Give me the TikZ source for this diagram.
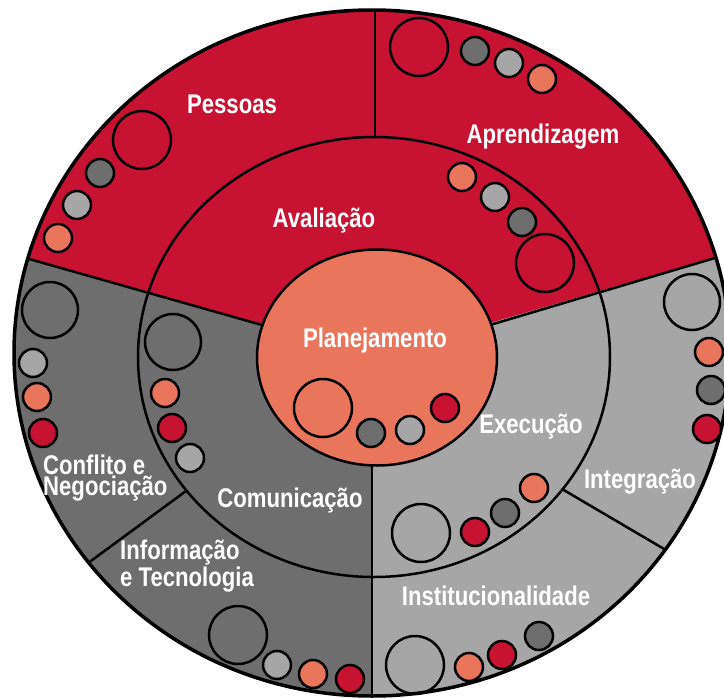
\documentclass[tikz,border=0pt]{standalone}
\usepackage{fontspec}
\newfontfamily\lblfont{Liberation Sans}[FakeStretch=0.82]
\definecolor{cred}{RGB}{200,18,50}
\definecolor{csal}{RGB}{232,117,92}
\definecolor{cdark}{RGB}{110,110,110}
\definecolor{clight}{RGB}{166,166,166}
\tikzset{
  lbl/.style={text=white, font=\lblfont\bfseries\fontsize{27}{21}\selectfont, inner sep=0pt},
  bigc/.style={draw=black, line width=2.5pt},
  dot/.style={draw=black, line width=2.5pt},
  ring/.style={draw=black, line width=2.5pt},
  rim/.style={draw=black, line width=3.5pt}
}
\begin{document}
\begin{tikzpicture}[x=1pt,y=-1pt]
\useasboundingbox (0,0) rectangle (724,699);
\clip (0,0) rectangle (724,699);
% sectors
\begin{scope}
  \clip (372,353) ellipse [x radius=358pt, y radius=343pt];
  \fill[clight] (-10,-10) rectangle (740,710);
  \fill[cdark] (373,357) -- (-317,159) -- (-400,1200) -- (372,1200) -- (372,357) -- cycle;
  \fill[cred] (373,357) -- (-317,159) -- (-400,-400) -- (1100,-400) -- (1059,157) -- cycle;
  % spokes
  \draw[ring] (375,137) -- (375,-5);
  \draw[ring] (262,325) -- (15,255);
  \draw[ring] (490,325) -- (735,252);
  \draw[ring] (372,465) -- (372,710);
  \draw[ring] (186,491) -- (80,569);
  \draw[ring] (562,489) -- (676,556);
\end{scope}
% rings
\draw[ring] (374,357) ellipse [x radius=236pt, y radius=220pt];
\filldraw[ring, fill=csal] (377,357.5) ellipse [x radius=120pt, y radius=108pt];
\draw[rim] (372,353) ellipse [x radius=358pt, y radius=343pt];
% Pessoas
\draw[bigc] (142,140) circle[radius=29pt];
\filldraw[dot, fill=cdark] (100,173) circle[radius=14pt];
\filldraw[dot, fill=clight] (77,205) circle[radius=14pt];
\filldraw[dot, fill=csal] (58,238) circle[radius=14pt];
% Aprendizagem
\draw[bigc] (419,47) circle[radius=29pt];
\filldraw[dot, fill=cdark] (475,51) circle[radius=14pt];
\filldraw[dot, fill=clight] (509,63) circle[radius=14pt];
\filldraw[dot, fill=csal] (542,79) circle[radius=14pt];
% Avaliacao
\filldraw[dot, fill=csal] (462,177) circle[radius=14pt];
\filldraw[dot, fill=clight] (495,197) circle[radius=14pt];
\filldraw[dot, fill=cdark] (522,222) circle[radius=14pt];
\draw[bigc] (545,263) circle[radius=29pt];
% Conflito
\draw[bigc] (50,310) circle[radius=28pt];
\filldraw[dot, fill=clight] (33,363) circle[radius=14pt];
\filldraw[dot, fill=csal] (37,397) circle[radius=14pt];
\filldraw[dot, fill=cred] (43,433) circle[radius=14pt];
% Comunicacao
\draw[bigc] (173,342) circle[radius=28pt];
\filldraw[dot, fill=csal] (165,393) circle[radius=14pt];
\filldraw[dot, fill=cred] (172,428) circle[radius=14pt];
\filldraw[dot, fill=clight] (190,458) circle[radius=14pt];
% Informacao
\draw[bigc] (238,635) circle[radius=29pt];
\filldraw[dot, fill=clight] (277,665) circle[radius=14pt];
\filldraw[dot, fill=csal] (313,674) circle[radius=14pt];
\filldraw[dot, fill=cred] (350,679) circle[radius=14pt];
% Planejamento
\draw[bigc] (323,408) circle[radius=29pt];
\filldraw[dot, fill=cdark] (371,433) circle[radius=14pt];
\filldraw[dot, fill=clight] (410,430) circle[radius=14pt];
\filldraw[dot, fill=cred] (445,408) circle[radius=14pt];
% Execucao
\draw[bigc] (421,533) circle[radius=29pt];
\filldraw[dot, fill=cred] (475,532) circle[radius=14pt];
\filldraw[dot, fill=cdark] (505,513) circle[radius=14pt];
\filldraw[dot, fill=csal] (534,488) circle[radius=14pt];
% Institucionalidade
\draw[bigc] (415,665) circle[radius=29pt];
\filldraw[dot, fill=csal] (469,667) circle[radius=14pt];
\filldraw[dot, fill=cred] (502,655) circle[radius=14pt];
\filldraw[dot, fill=cdark] (539,636) circle[radius=14pt];
% Integracao
\draw[bigc] (692,302) circle[radius=28pt];
\filldraw[dot, fill=csal] (709,352) circle[radius=14pt];
\filldraw[dot, fill=cdark] (711,390) circle[radius=14pt];
\filldraw[dot, fill=cred] (707,429) circle[radius=14pt];
% labels
\node[lbl, anchor=base] (pes) at (232,113) {Pessoas};
\node[lbl, anchor=base] (apr) at (543,143) {Aprendizagem};
\node[lbl, anchor=base] (ava) at (324,227) {Avaliação};
\node[lbl, anchor=base] (pla) at (375,347) {Planejamento};
\node[lbl, anchor=base] (exe) at (531,433) {Execução};
\node[lbl, anchor=base] (int) at (640,488) {Integração};
\node[lbl, anchor=base] (ins) at (496,605) {Institucionalidade};
\node[lbl, anchor=base] (com) at (290,507) {Comunicação};
\node[lbl, anchor=base west, align=left] (con) at (43,495) {Conflito e\\Negociação};
\node[lbl, anchor=base west, align=left] (inf) at (120,586) {Informação\\e Tecnologia};
\end{tikzpicture}
\end{document}
